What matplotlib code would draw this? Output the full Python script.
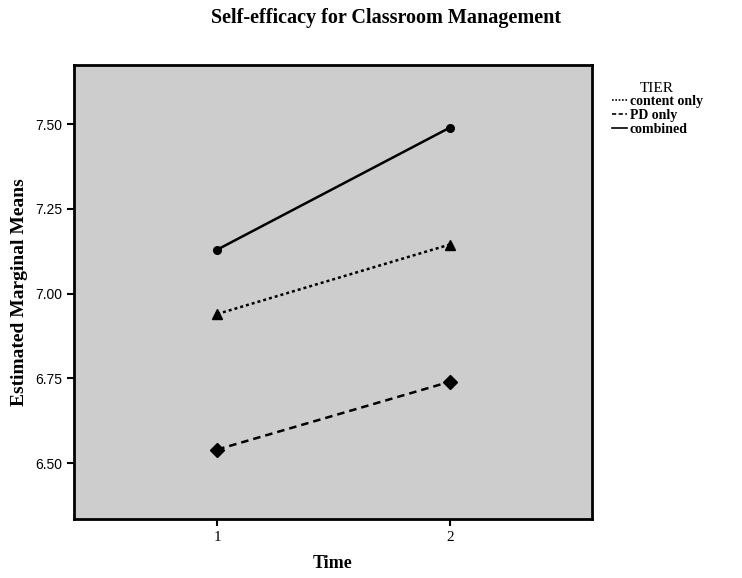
import matplotlib.pyplot as plt
from matplotlib.lines import Line2D

# data
times = [1, 2]
tiers = ["content only", "PD only", "combined"]
content_only = [6.94, 7.145]
pd_only = [6.54, 6.74]
combined = [7.13, 7.49]
y_ticks = [6.50, 6.75, 7.00, 7.25, 7.50]

serif = "Liberation Serif"
sans = "Liberation Sans"

fig = plt.figure(figsize=(7.42, 5.78), dpi=100)
ax = fig.add_axes([74 / 742, 59 / 578, 518 / 742, 454 / 578])
ax.set_facecolor("#cdcdcd")

ax.plot(times, content_only, color="black", lw=1.8, ls=(0, (1.2, 1.2)),
        marker="^", ms=6.5, mfc="black", mec="black")
ax.plot(times, pd_only, color="black", lw=1.8, ls=(0, (3, 2)),
        marker="D", ms=7.5, mfc="black", mec="black")
ax.plot(times, combined, color="black", lw=1.8, ls="-",
        marker="o", ms=5.5, mfc="black", mec="black")

ax.set_xlim(0.384, 2.612)
ax.set_ylim(6.335, 7.675)
ax.set_xticks(times)
ax.set_xticklabels([str(t) for t in times], fontfamily=serif, fontsize=11)
ax.set_yticks(y_ticks)
ax.set_yticklabels([f"{v:.2f}" for v in y_ticks], fontfamily=sans, fontsize=10)
ax.tick_params(direction="out", length=5, width=1.5, color="black")

for side in ax.spines.values():
    side.set_linewidth(2)
    side.set_color("black")

ax.set_xlabel("Time", fontfamily=serif, fontweight="bold", fontsize=13, labelpad=8)
ax.set_ylabel("Estimated Marginal Means", fontfamily=serif, fontweight="bold",
              fontsize=14, labelpad=5)

fig.text(386 / 742, 1 - 18 / 578, "Self-efficacy for Classroom Management",
         ha="center", va="center", fontfamily=serif, fontweight="bold", fontsize=14.5)

handles = [
    Line2D([], [], color="black", lw=1.2, ls=(0, (1, 1))),
    Line2D([], [], color="black", lw=1.2, ls=(0, (2.5, 1.5))),
    Line2D([], [], color="black", lw=1.2, ls="-"),
]
leg = fig.legend(handles, tiers, title="TIER", loc="upper left",
                 bbox_to_anchor=(606 / 742, 1 - 76 / 578), frameon=False,
                 handlelength=1.1, handletextpad=0.2, labelspacing=0.05,
                 borderaxespad=0, prop={"family": serif, "size": 10, "weight": "bold"})
leg.get_title().set_fontfamily(serif)
leg.get_title().set_fontsize(11)

fig.savefig("out.png", dpi=100)
